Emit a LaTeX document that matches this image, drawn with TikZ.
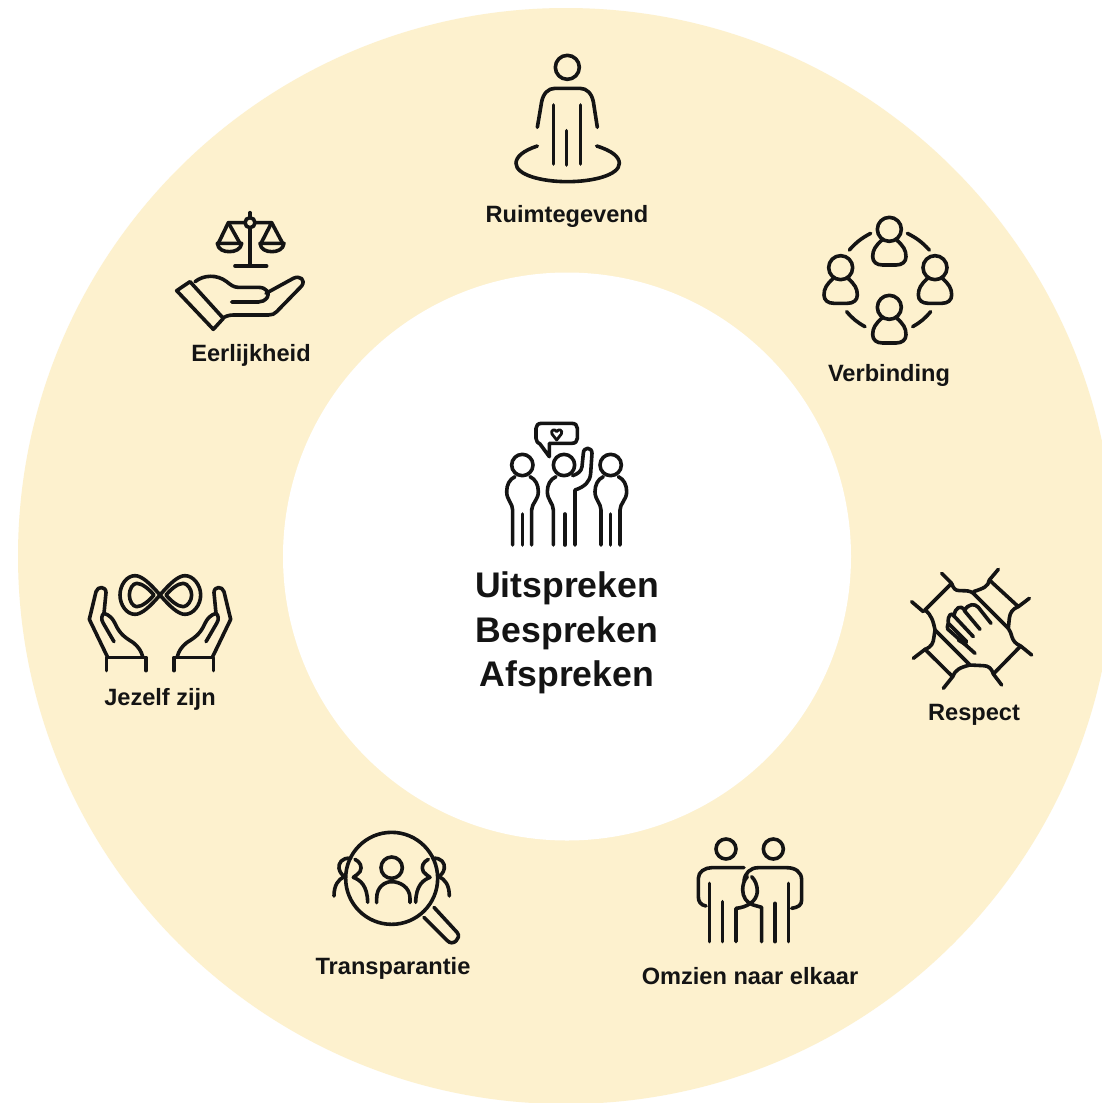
\documentclass[tikz,border=0pt]{standalone}
\usepackage{fontspec}
\setmainfont{Liberation Sans}
\definecolor{ring}{HTML}{FDF1CE}
\definecolor{ink}{HTML}{141414}
\tikzset{
  zm/.style 2 args={shift={(#1pt,-#2pt)},x=.33333pt,y=-.33333pt},
  ico/.style={draw=ink,line width=3.6pt,line cap=round,line join=round},
  lab/.style={text=ink,font=\fontsize{23.6}{26}\selectfont\bfseries,inner sep=0pt,anchor=center},
  big/.style={text=ink,font=\fontsize{35.6}{38}\selectfont\bfseries,inner sep=0pt,anchor=center},
}
\begin{document}
\begin{tikzpicture}[x=1pt,y=-1pt]
\useasboundingbox (0,0) rectangle (1102,1103);
\clip (0,0) rectangle (1102,1103);
\fill[white] (0,0) rectangle (1102,1103);
\fill[ring] (566,556) circle[radius=548];
\fill[white] (567,556.5) circle[radius=284];

% labels
\node[lab] (l1) at (567,216) {Ruimtegevend};
\node[lab] (l2) at (889,375) {Verbinding};
\node[lab] (l3) at (251,355) {Eerlijkheid};
\node[lab] (l4) at (974,715) {Respect};
\node[lab] (l5) at (160,699) {Jezelf zijn};
\node[lab] (l6) at (393,968) {Transparantie};
\node[lab] (l7) at (750,976) {Omzien naar elkaar};
\node[big] (c1) at (567,588) {Uitspreken};
\node[big] (c2) at (567,633) {Bespreken};
\node[big] (c3) at (567,677) {Afspreken};

% Ruimtegevend
\begin{scope}[zm={480}{40}]
\draw[ico] (262,82) circle[radius=36];
\draw[ico] (172,262) -- (185,185) .. controls (190,160) and (205,145) .. (225,145) -- (300,145) .. controls (320,145) and (335,160) .. (340,185) -- (352,262);
\draw[ico] (220,195) -- (220,372);
\draw[ico] (302,195) -- (302,372);
\draw[ico] (260,272) -- (260,375);
\draw[ico] (172,318) .. controls (130,332) and (108,350) .. (108,370) .. controls (108,405) and (185,425) .. (262,425) .. controls (340,425) and (418,405) .. (418,370) .. controls (418,350) and (395,332) .. (350,318);
\end{scope}

% Verbinding
\begin{scope}[zm={800}{200}]
\foreach \hx/\hy in {268/88,122/203,405/203,268/322}{
  \begin{scope}[shift={(\hx*.33333pt,-\hy*.33333pt)}]
  \draw[ico] (0,0) circle[radius=36];
  \draw[ico] (-22,32) .. controls (-42,50) and (-50,62) .. (-50,82) .. controls (-50,98) and (-38,107) .. (-20,107) -- (20,107) .. controls (38,107) and (50,98) .. (50,82) .. controls (50,62) and (42,50) .. (22,32);
  \end{scope}
}
\draw[ico] (148,150) to[bend left=10] (212,100);
\draw[ico] (322,100) to[bend left=10] (388,150);
\draw[ico] (140,335) to[bend right=10] (195,380);
\draw[ico] (338,380) to[bend right=10] (392,335);
\end{scope}

% Eerlijkheid
\begin{scope}[zm={160}{200}]
\draw[ico] (270,38) -- (270,52);
\draw[ico] (270,68) circle[radius=15];
\draw[ico] (270,83) -- (270,197);
\draw[ico] (225,198) -- (320,198);
\draw[ico] (255,68) -- (205,68) -- (175,130);
\draw[ico] (205,68) -- (240,130);
\draw[ico] (285,68) -- (335,68) -- (303,130);
\draw[ico] (335,68) -- (368,130);
\draw[ico] (172,130) -- (245,130) .. controls (243,148) and (225,155) .. (208,155) .. controls (190,155) and (174,148) .. (172,130) -- cycle;
\draw[ico] (300,130) -- (372,130) .. controls (370,148) and (352,155) .. (336,155) .. controls (318,155) and (302,148) .. (300,130) -- cycle;
\draw[ico] (50,272) -- (90,245) -- (190,355) -- (160,388) -- cycle;
\draw[ico] (105,245) .. controls (130,225) and (170,222) .. (200,245) .. controls (212,255) and (222,262) .. (235,262) -- (295,262) .. controls (320,262) and (330,280) .. (322,292) .. controls (315,302) and (305,306) .. (295,306) -- (215,306);
\draw[ico] (318,280) -- (400,235) .. controls (420,225) and (438,240) .. (425,258) -- (350,335) .. controls (345,342) and (335,345) .. (325,345) -- (220,345) .. controls (205,345) and (195,350) .. (187,355);
\end{scope}

% Respect
\begin{scope}[zm={890}{550}]
\draw[ico] (155,70) -- (185,100) -- (105,180);
\draw[ico] (65,155) -- (100,185);
\draw[ico] (325,58) -- (298,90) -- (385,170) -- (418,145);
\draw[ico] (425,315) -- (392,288) -- (310,372) -- (335,405);
\draw[ico] (70,325) -- (105,298) -- (188,380) -- (160,415);
\draw[ico] (185,100) .. controls (190,115) and (195,122) .. (210,122) .. controls (230,122) and (240,122) .. (250,130) -- (355,235);
\draw[ico] (298,90) .. controls (295,110) and (280,115) .. (250,125);
\draw[ico] (385,170) .. controls (365,178) and (360,190) .. (358,205) -- (355,235) .. controls (368,250) and (360,275) .. (392,288);
\draw[ico] (310,372) .. controls (305,355) and (295,347) .. (280,347) -- (240,345) -- (135,240);
\draw[ico] (188,380) .. controls (195,360) and (210,352) .. (240,345);
\draw[ico] (105,298) .. controls (125,290) and (130,280) .. (132,260) -- (135,240) .. controls (130,215) and (125,195) .. (105,180);
% fingers
\draw[ico] (303,220) -- (265,172) .. controls (255,160) and (235,160) .. (223,182) -- (270,238);
\draw[ico] (223,182) -- (223,178) .. controls (212,165) and (195,172) .. (192,198) -- (250,260);
\draw[ico] (192,198) .. controls (185,185) and (172,195) .. (175,220) -- (230,275);
\draw[ico] (175,220) .. controls (168,235) and (175,243) .. (182,245) -- (255,310);
\draw[ico] (205,270) -- (230,285);
\end{scope}

% Jezelf zijn
\begin{scope}[zm={70}{560}]
\draw[ico] (270,105) .. controls (240,70) and (215,47) .. (195,47) .. controls (170,47) and (150,75) .. (150,105) .. controls (150,135) and (170,163) .. (195,163) .. controls (215,163) and (240,140) .. (270,105) .. controls (300,70) and (325,47) .. (345,47) .. controls (370,47) and (392,75) .. (392,105) .. controls (392,135) and (370,163) .. (345,163) .. controls (325,163) and (300,140) .. (270,105);
\draw[ico] (252,105) .. controls (235,85) and (215,70) .. (200,70) .. controls (188,70) and (178,88) .. (178,105) .. controls (178,122) and (188,140) .. (200,140) .. controls (215,140) and (235,125) .. (252,105) -- cycle;
\draw[ico] (288,105) .. controls (305,85) and (325,70) .. (340,70) .. controls (352,70) and (365,88) .. (365,105) .. controls (365,122) and (352,140) .. (340,140) .. controls (325,140) and (305,125) .. (288,105) -- cycle;
\foreach \sx/\ox in {1/0,-1/540}{
\begin{scope}[xscale=\sx,xshift=\ox*\sx*.33333pt]
\draw[ico] (112,290) -- (58,178) -- (78,95) .. controls (83,78) and (108,78) .. (108,98) -- (102,160) .. controls (118,165) and (128,175) .. (135,190) .. controls (150,225) and (170,235) .. (190,248) .. controls (205,260) and (215,275) .. (218,290);
\draw[ico] (132,245) -- (100,190) .. controls (92,178) and (95,165) .. (102,160);
\draw[ico] (110,332) -- (110,292) -- (228,292) -- (228,332);
\end{scope}
}
\end{scope}

% Transparantie
\begin{scope}[zm={310}{820}]
\draw[ico] (245,175) circle[radius=138];
\draw[ico] (372,262) -- (442,338) .. controls (455,355) and (428,380) .. (412,362) -- (342,292);
\draw[ico] (245,143) circle[radius=32];
\draw[ico] (200,248) -- (200,235) .. controls (200,200) and (225,185) .. (245,185) .. controls (268,185) and (300,200) .. (300,235) -- (300,248);
\draw[ico] (135,118) .. controls (150,125) and (158,140) .. (150,155) .. controls (145,165) and (135,165) .. (130,172) .. controls (150,180) and (172,195) .. (173,247);
\draw[ico] (355,118) .. controls (340,125) and (332,140) .. (340,155) .. controls (345,165) and (355,165) .. (360,172) .. controls (340,180) and (318,195) .. (317,247);
\draw[ico] (122,115) .. controls (95,112) and (85,130) .. (87,145) .. controls (90,160) and (98,165) .. (103,170) .. controls (85,178) and (72,195) .. (72,228);
\draw[ico] (368,115) .. controls (395,112) and (405,130) .. (403,145) .. controls (400,160) and (392,165) .. (387,170) .. controls (405,178) and (418,195) .. (418,228);
\end{scope}

% Omzien naar elkaar
\begin{scope}[zm={670}{820}]
\draw[ico] (168,87) circle[radius=30];
\draw[ico] (310,87) circle[radius=30];
\draw[ico] (108,258) .. controls (92,255) and (85,245) .. (85,230) -- (85,175) .. controls (85,155) and (105,143) .. (125,143) -- (222,143);
\draw[ico] (118,190) -- (118,365);
\draw[ico] (158,245) -- (158,365);
\draw[ico] (198,365) -- (198,265) .. controls (230,262) and (260,245) .. (262,215) .. controls (262,195) and (255,180) .. (245,170);
\draw[ico] (222,182) .. controls (225,160) and (240,143) .. (265,143) -- (350,143) .. controls (375,143) and (395,155) .. (395,180) -- (395,240) .. controls (395,255) and (385,262) .. (365,265);
\draw[ico] (355,190) -- (355,365);
\draw[ico] (315,250) -- (315,365);
\draw[ico] (275,365) -- (275,262) -- (250,255) .. controls (230,250) and (218,230) .. (218,210) .. controls (218,195) and (222,180) .. (232,170);
\end{scope}

% Centre group
\begin{scope}[zm={490}{410}]
\draw[ico] (178,140) -- (178,100) -- (245,100) .. controls (256,100) and (262,94) .. (262,85) -- (262,55) .. controls (262,46) and (256,40) .. (245,40) -- (155,40) .. controls (144,40) and (138,46) .. (138,55) -- (138,85) .. controls (138,94) and (144,100) .. (150,102) -- (178,140);
\draw[draw=ink,line width=2.8pt,line join=round] (200,90) -- (186,72) .. controls (180,60) and (195,55) .. (200,65) .. controls (205,55) and (220,60) .. (214,72) -- cycle;
\foreach \dx in {0,265}{
\begin{scope}[shift={(\dx*.33333pt,0pt)}]
\draw[ico] (97,165) circle[radius=32];
\draw[ico] (75,200) .. controls (58,208) and (50,225) .. (50,245) .. controls (50,270) and (68,280) .. (68,300) -- (68,405);
\draw[ico] (120,200) .. controls (137,208) and (145,225) .. (145,245) .. controls (145,270) and (125,280) .. (125,300) -- (125,405);
\draw[ico] (97,312) -- (97,405);
\end{scope}
}
\draw[ico] (222,165) circle[radius=32];
\draw[ico] (198,200) .. controls (180,208) and (172,225) .. (172,245) .. controls (172,270) and (190,280) .. (190,300) -- (190,405);
\draw[ico] (225,312) -- (225,405);
\draw[ico] (255,405) -- (255,240) .. controls (285,230) and (300,215) .. (302,190) -- (306,130) .. controls (306,110) and (280,110) .. (280,130) -- (276,170) .. controls (274,185) and (262,192) .. (248,197);
\end{scope}
\end{tikzpicture}
\end{document}
